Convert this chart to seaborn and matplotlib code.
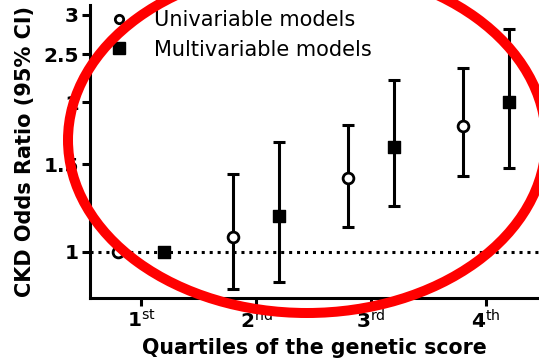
import numpy as np
import pandas as pd
import seaborn as sns
import matplotlib
matplotlib.use("Agg")
import matplotlib.pyplot as plt
from matplotlib.patches import Ellipse
from matplotlib.lines import Line2D

# ---- data ----
quartiles = [1, 2, 3, 4]
tick_labels = [r"$\mathbf{1}^{\mathrm{st}}$", r"$\mathbf{2}^{\mathrm{nd}}$",
               r"$\mathbf{3}^{\mathrm{rd}}$", r"$\mathbf{4}^{\mathrm{th}}$"]
uni_or = [1.0, 1.07, 1.41, 1.79]
uni_lo = [1.0, 0.842, 1.123, 1.42]
uni_hi = [1.0, 1.436, 1.80, 2.35]
multi_or = [1.0, 1.18, 1.627, 2.0]
multi_lo = [1.0, 0.871, 1.238, 1.476]
multi_hi = [1.0, 1.665, 2.22, 2.81]
yticks = [1, 1.5, 2, 2.5, 3]
ytick_labels = ["1", "1.5", "2", "2.5", "3"]

sns.set_style("ticks")
plt.rcParams["font.family"] = ["DejaVu Sans"]
plt.rcParams["mathtext.fontset"] = "dejavusans"
for key in ("text.color", "axes.labelcolor", "xtick.color", "ytick.color",
            "axes.edgecolor"):
    plt.rcParams[key] = "black"

fig = plt.figure(figsize=(5.39, 3.64), dpi=100)
ax = fig.add_axes([90/539, 66/364, 1 - 90/539, (298 - 5)/364])

offset = 0.2
df_u = pd.DataFrame({"x": np.array(quartiles) - offset, "or": uni_or,
                     "lo": uni_lo, "hi": uni_hi})
df_m = pd.DataFrame({"x": np.array(quartiles) + offset, "or": multi_or,
                     "lo": multi_lo, "hi": multi_hi})

ax.axhline(1.0, color="black", lw=2.2, ls=(0, (1, 1.6)), zorder=1)

for df in (df_u, df_m):
    ax.errorbar(df["x"], df["or"],
                yerr=[df["or"] - df["lo"], df["hi"] - df["or"]],
                fmt="none", ecolor="black", elinewidth=2.2, capsize=4.5,
                capthick=2.2, zorder=2)

sns.scatterplot(data=df_u, x="x", y="or", marker="o", s=60, facecolor="white",
                edgecolor="black", linewidth=2.0, ax=ax, zorder=3)
sns.scatterplot(data=df_m, x="x", y="or", marker="s", s=75, color="black",
                edgecolor="black", linewidth=1, ax=ax, zorder=3)

ax.set_yscale("log")
ax.set_ylim(0.808, 3.14)
ax.set_xlim(0.555, 4.46)
ax.set_yticks(yticks)
ax.set_yticklabels(ytick_labels, fontsize=14.5, fontweight="bold")
ax.yaxis.set_minor_locator(matplotlib.ticker.NullLocator())
ax.set_xticks(quartiles)
ax.set_xticklabels(tick_labels, fontsize=14.5)
ax.tick_params(axis="both", length=6, width=2.2, pad=2, color="black",
               labelcolor="black")

for side in ("top", "right"):
    ax.spines[side].set_visible(False)
for side in ("left", "bottom"):
    ax.spines[side].set_linewidth(2.2)
    ax.spines[side].set_color("black")

ax.set_xlabel("Quartiles of the genetic score", fontsize=14.8,
              fontweight="bold", labelpad=4, color="black")
ax.set_ylabel("CKD Odds Ratio (95% CI)", fontsize=15, fontweight="bold",
              labelpad=6, color="black")

handles = [
    Line2D([], [], marker="o", ls="none", markersize=6, markerfacecolor="white",
           markeredgecolor="black", markeredgewidth=2),
    Line2D([], [], marker="s", ls="none", markersize=8.5, color="black"),
]
leg = ax.legend(handles, ["Univariable models", "Multivariable models"],
                loc="upper left", bbox_to_anchor=(0.022, 1.01), frameon=False,
                fontsize=15, handlelength=1.0, handletextpad=1.2,
                labelspacing=0.45, borderaxespad=0)
for t in leg.get_texts():
    t.set_color("black")

fig.add_artist(Ellipse((307/539, 1 - 140/364), width=478/539, height=346/364,
                       transform=fig.transFigure, fill=False, edgecolor="#ff0000",
                       linewidth=7.2, zorder=10))

fig.savefig("out.png", dpi=100)
